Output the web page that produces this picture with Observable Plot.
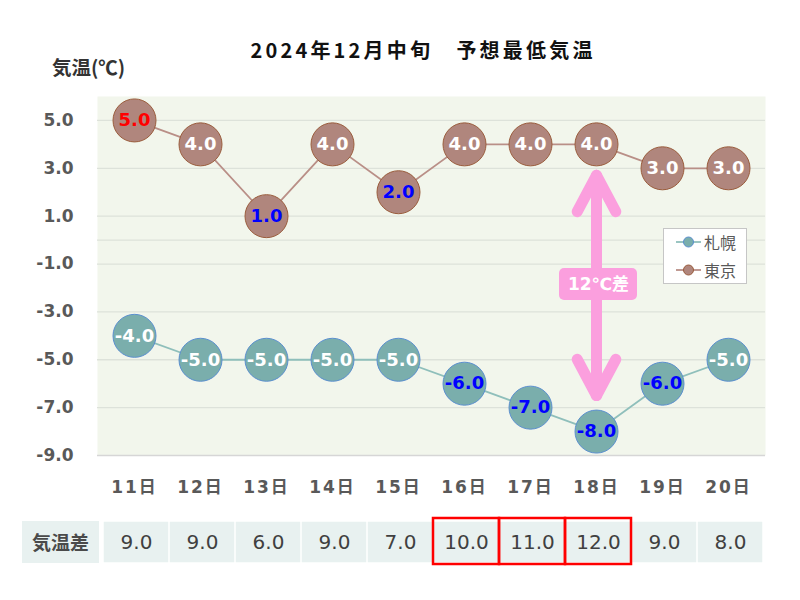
<!DOCTYPE html>
<html><head><meta charset="utf-8">
<script src="https://cdn.jsdelivr.net/npm/d3@7"></script>
<script src="https://cdn.jsdelivr.net/npm/@observablehq/plot@0.6"></script>
<style>
body{margin:0;background:#fff;font-family:"Noto Sans CJK JP","Noto Sans",sans-serif;}
#wrap{position:relative;width:800px;height:600px;overflow:hidden;background:#fff}
.abs{position:absolute}
#title{left:0;width:846px;top:38px;line-height:24px;text-align:center;font-size:20px;font-weight:bold;letter-spacing:3.2px;color:#111}
#ylab{left:52px;top:56px;line-height:22px;font-size:19.5px;font-weight:bold;color:#333}
#legend{left:663px;top:228px;width:82px;height:54px;border:1px solid #c6c6c6;background:#fff}
.li{position:absolute;left:12px;height:22px;display:flex;align-items:center;font-size:16px;color:#595959}
.li svg{margin-right:3px}
#tlab{left:22px;top:521px;width:77px;height:42px;background:#e8f1f0;line-height:42px;text-align:center;font-size:19px;font-weight:bold;color:#4a4a4a}
</style></head><body><div id="wrap"></div>
<script>
const days = ["11日","12日","13日","14日","15日","16日","17日","18日","19日","20日"];
const sapporo = [-4,-5,-5,-5,-5,-6,-7,-8,-6,-5];
const tokyo = [5,4,1,4,2,4,4,4,3,3];
const diffs = [9,9,6,9,7,10,11,12,9,8];
const yTicks = [5,3,1,-1,-3,-5,-7,-9];
const gridValues = [5,3,1,0,-1,-3,-5,-7];
const cities = ["札幌","東京"];
const title = "2024年12月中旬　予想最低気温";
const yLabel = "気温(℃)";
const diffLabel = "気温差";

const C = {
  sapFill:"#7aaeac", sapStroke:"#5b8fcf", sapLine:"#8fbfbb",
  tokFill:"#b0867d", tokStroke:"#9a5c3c", tokLine:"#b98f87",
  pink:"#fb9fde", axisText:"#595959"
};
const NUMFONT = '"DejaVu Sans","Noto Sans CJK JP",sans-serif';

const tokMax = d3.max(tokyo);
const tokRows = days.map((d,i)=>({day:d, v:tokyo[i],
  color: tokyo[i]===tokMax ? "#ff0000" : tokyo[i] < 3 ? "#0000ff" : "#ffffff"}));
const sapRows = days.map((d,i)=>({day:d, v:sapporo[i],
  color: sapporo[i] <= -6 ? "#0000ff" : "#ffffff"}));

const peakIdx = d3.maxIndex(diffs);
const peak = [{day:days[peakIdx], t:tokyo[peakIdx], s:sapporo[peakIdx], mid:(tokyo[peakIdx]+sapporo[peakIdx])/2, label:diffs[peakIdx]+"℃差"}];

const wrap = document.getElementById("wrap");

const chart = Plot.plot({
  width:800, height:510, marginTop:96, marginBottom:55, marginLeft:97, marginRight:35,
  style:{fontFamily:NUMFONT, background:"transparent", overflow:"visible"},
  x:{type:"point", domain:days, padding:0.5, axis:null},
  y:{domain:[-9,6], axis:null},
  marks:[
    Plot.frame({fill:"#f2f6ec", stroke:null}),
    Plot.ruleY(gridValues, {stroke:"#dde2da", strokeWidth:1.3}),
    Plot.ruleY([-9], {stroke:"#d6d6d6", strokeWidth:1.3}),
    Plot.axisY(yTicks, {tickSize:0, tickPadding:24, tickFormat:d=>d.toFixed(1), fontSize:17, fontWeight:"bold", fill:C.axisText, label:null}),
    Plot.axisX({tickSize:0, tickPadding:25, fontSize:17, fontWeight:"bold", fill:C.axisText, label:null, className:"xax"}),
    Plot.line(tokRows, {x:"day", y:"v", stroke:C.tokLine, strokeWidth:1.8}),
    Plot.line(sapRows, {x:"day", y:"v", stroke:C.sapLine, strokeWidth:1.8}),
    Plot.dot(tokRows, {x:"day", y:"v", r:21.5, fill:C.tokFill, stroke:C.tokStroke, strokeWidth:1}),
    Plot.dot(sapRows, {x:"day", y:"v", r:21.5, fill:C.sapFill, stroke:C.sapStroke, strokeWidth:1}),
    Plot.text(tokRows, {x:"day", y:"v", text:d=>d.v.toFixed(1), fill:"color", fontSize:18, fontWeight:"bold"}),
    Plot.text(sapRows, {x:"day", y:"v", text:d=>d.v.toFixed(1), fill:"color", fontSize:18, fontWeight:"bold"}),
    Plot.arrow(peak, {x1:"day", y1:"t", x2:"day", y2:"s", insetStart:31, insetEnd:36, stroke:C.pink, strokeWidth:11, headLength:5.6, headAngle:56, strokeLinecap:"round", strokeLinejoin:"round"}),
    Plot.arrow(peak, {x1:"day", y1:"s", x2:"day", y2:"t", insetStart:36, insetEnd:31, stroke:C.pink, strokeWidth:11, headLength:5.6, headAngle:56, strokeLinecap:"round", strokeLinejoin:"round"}),
    Plot.rect(peak, {x1:"day", x2:"day", y1:"mid", y2:"mid", insetLeft:-37, insetRight:-41, insetTop:-19.5, insetBottom:-12.5, fill:C.pink, rx:5}),
    Plot.text(peak, {x:"day", y:"mid", text:"label", dy:-3.5, dx:2, fill:"#ffffff", fontSize:17, fontWeight:"bold"})
  ]
});
chart.querySelectorAll('[aria-label="x-axis tick label"] text').forEach(el=>{el.style.letterSpacing="2px";});
chart.classList.add("abs");
chart.style.left="0px"; chart.style.top="0px";
wrap.appendChild(chart);

const t = document.createElement("div"); t.id="title"; t.className="abs"; t.textContent=title; wrap.appendChild(t);
const yl = document.createElement("div"); yl.id="ylab"; yl.className="abs"; yl.textContent=yLabel; wrap.appendChild(yl);

const lg = document.createElement("div"); lg.id="legend"; lg.className="abs";
const legendStyles = [[C.sapLine, C.sapFill, C.sapStroke],[C.tokLine, C.tokFill, C.tokStroke]];
cities.forEach((c,i)=>{
  const it = document.createElement("div"); it.className="li"; it.style.top=(2+i*28)+"px";
  const [ln,f,s] = legendStyles[i];
  it.innerHTML = `<svg width="25" height="12"><line x1="0" y1="6" x2="25" y2="6" stroke="${ln}" stroke-width="1.8"/><circle cx="12.5" cy="6" r="5" fill="${f}" stroke="${s}"/></svg><span>${c}</span>`;
  lg.appendChild(it);
});
wrap.appendChild(lg);

const tl = document.createElement("div"); tl.id="tlab"; tl.className="abs"; tl.textContent=diffLabel; wrap.appendChild(tl);

const tableRows = days.map((d,i)=>({day:d, v:diffs[i]}));
const table = Plot.plot({
  width:800, height:50, marginTop:4, marginBottom:4, marginLeft:100, marginRight:35,
  style:{fontFamily:NUMFONT, background:"transparent", overflow:"visible"},
  x:{domain:days, axis:null, padding:0},
  marks:[
    Plot.cell(tableRows, {x:"day", fill:"#e8f1f0", inset:0.75}),
    Plot.text(tableRows, {x:"day", text:d=>d.v.toFixed(1), fontSize:20, fill:"#404040"}),
    Plot.cell(tableRows.filter(d=>d.v>=10), {x:"day", fill:"none", stroke:"#ff0000", strokeWidth:2.5, insetTop:-3, insetBottom:-1})
  ]
});
table.classList.add("abs");
table.style.left="0px"; table.style.top="517px";
wrap.appendChild(table);
</script>
</body></html>
